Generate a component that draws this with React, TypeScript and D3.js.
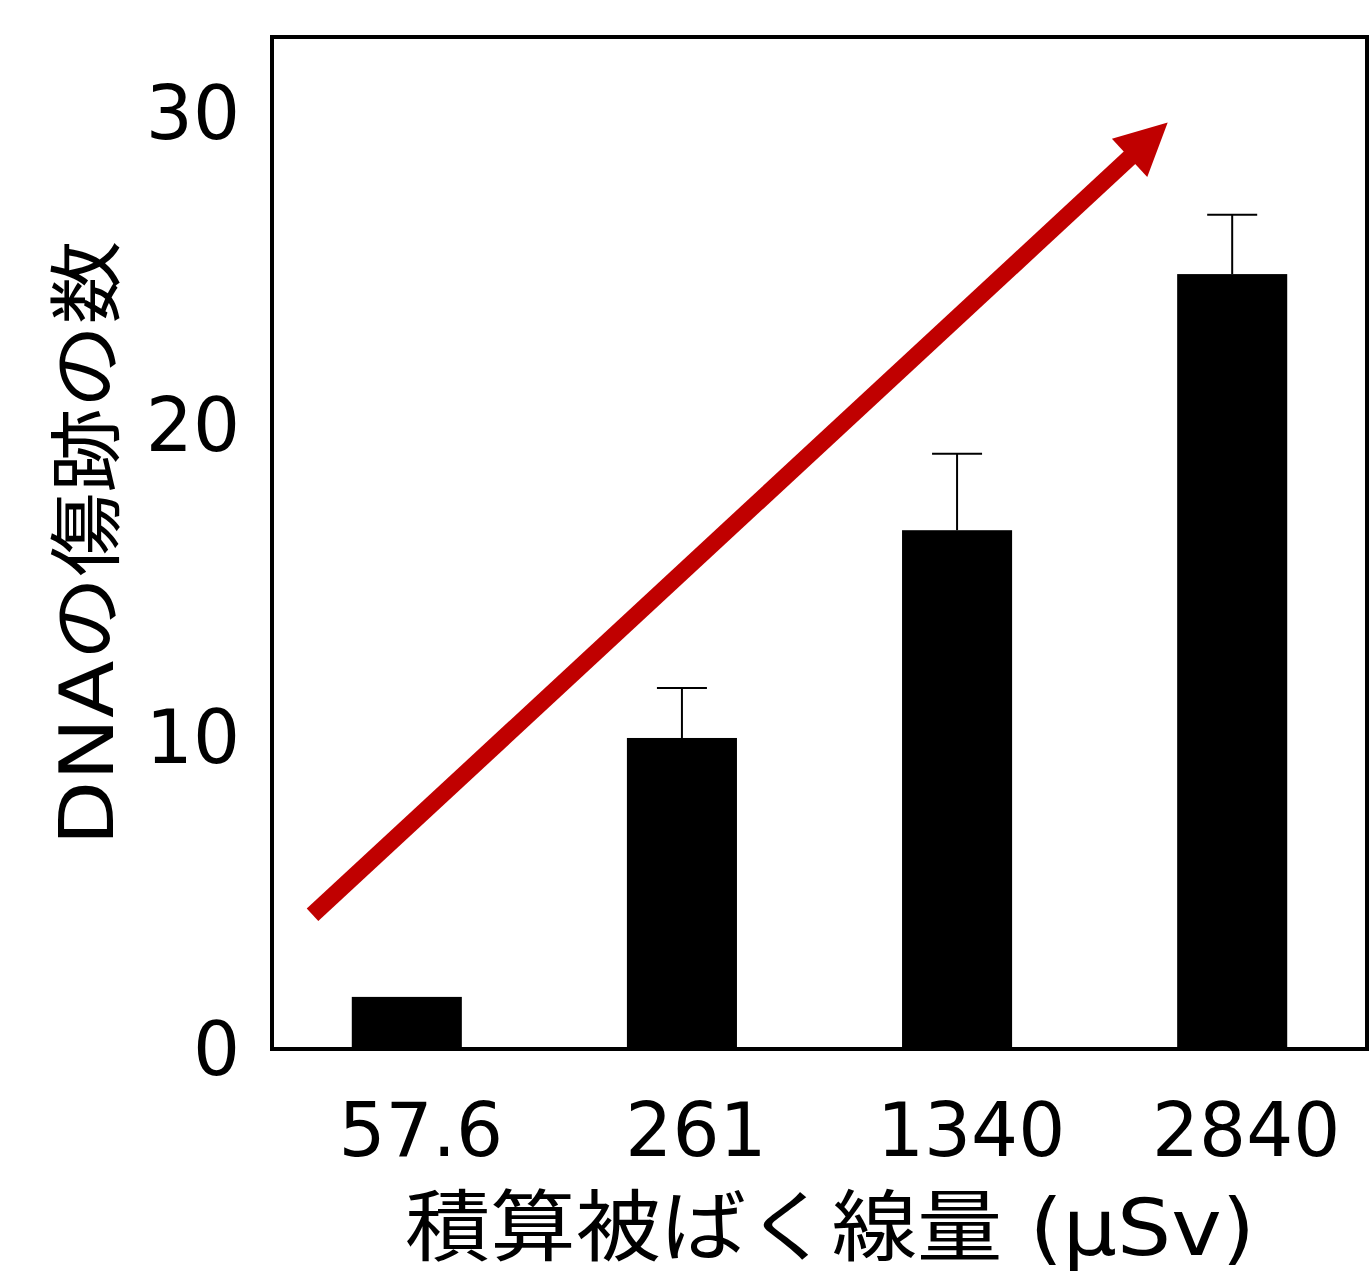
import * as d3 from "d3";

const categories = ["57.6", "261", "1340", "2840"];
const values = [1.67, 9.97, 16.63, 24.84];
const errors = [0, 1.6, 2.45, 1.9];
const yTicks = [0, 10, 20, 30];
const xTitle = "積算被ばく線量 (μSv)";
const yTitle = "DNAの傷跡の数";
// arrow annotation: x as fraction of plot width, y in data units
const arrowFrom = [0.037, 4.3];
const arrowTo = [0.818, 29.7];

const W = 1369;
const H = 1276;
const MARGIN = { top: 37, right: 2, bottom: 227, left: 272 };
const FONT = "'DejaVu Sans', 'Noto Sans CJK JP', sans-serif";
const RED = "#c00000";

export default function App() {
  const boundsW = W - MARGIN.left - MARGIN.right;
  const boundsH = H - MARGIN.top - MARGIN.bottom;

  const x = d3.scaleBand().domain(categories).range([0, boundsW]).paddingInner(0.6).paddingOuter(0.29);
  const y = d3.scaleLinear().domain([0, 32.44]).range([boundsH, 0]);
  const fx = d3.scaleLinear().domain([0, 1]).range([0, boundsW]);

  const x0 = fx(arrowFrom[0]);
  const y0 = y(arrowFrom[1]);
  const x1 = fx(arrowTo[0]);
  const y1 = y(arrowTo[1]);
  const ang = Math.atan2(y1 - y0, x1 - x0);
  const headLen = 52;
  const headHalf = 26;
  const bx = x1 - headLen * Math.cos(ang);
  const by = y1 - headLen * Math.sin(ang);
  const px = -Math.sin(ang);
  const py = Math.cos(ang);
  const head = [
    [x1, y1],
    [bx + px * headHalf, by + py * headHalf],
    [bx - px * headHalf, by - py * headHalf],
  ];

  return (
    <svg width={W} height={H} style={{ position: "absolute", left: 0, top: 0, background: "#fff" }}>
      <g transform={`translate(${MARGIN.left},${MARGIN.top})`}>
        {/* bars */}
        {categories.map((c, i) => (
          <rect key={c} x={x(c)} y={y(values[i])} width={x.bandwidth()} height={boundsH - y(values[i])} fill="#000" />
        ))}
        {/* error bars, upper only */}
        {categories.map((c, i) => {
          if (!errors[i]) return null;
          const cx = (x(c) as number) + x.bandwidth() / 2;
          return (
            <g key={c} stroke="#000" strokeWidth={2}>
              <line x1={cx} x2={cx} y1={y(values[i])} y2={y(values[i] + errors[i])} />
              <line x1={cx - 25} x2={cx + 25} y1={y(values[i] + errors[i])} y2={y(values[i] + errors[i])} />
            </g>
          );
        })}
        {/* frame */}
        <rect x={0} y={0} width={boundsW} height={boundsH} fill="none" stroke="#000" strokeWidth={4} />
        {/* y tick labels */}
        {yTicks.map((t) => (
          <text key={t} x={-32} y={y(t)} textAnchor="end" dominantBaseline="central" fontSize={74} fontFamily={FONT}>
            {t}
          </text>
        ))}
        {/* x labels */}
        {categories.map((c) => (
          <text key={c} x={(x(c) as number) + x.bandwidth() / 2 + 14} y={boundsH + 107} textAnchor="middle" fontSize={74} fontFamily={FONT}>
            {c}
          </text>
        ))}
        {/* arrow */}
        <line x1={x0} y1={y0} x2={bx + 4 * Math.cos(ang)} y2={by + 4 * Math.sin(ang)} stroke={RED} strokeWidth={17} />
        <polygon points={head.map((p) => p.join(",")).join(" ")} fill={RED} />
      </g>
      {/* axis titles */}
      <text x={830} y={1255} textAnchor="middle" fontSize={78} fontFamily={FONT} textLength={850} lengthAdjust="spacingAndGlyphs">
        {xTitle}
      </text>
      <text
        transform={`translate(113,543) rotate(-90)`}
        textAnchor="middle"
        fontSize={74}
        fontFamily={FONT}
        textLength={605}
        lengthAdjust="spacingAndGlyphs"
      >
        {yTitle}
      </text>
    </svg>
  );
}
